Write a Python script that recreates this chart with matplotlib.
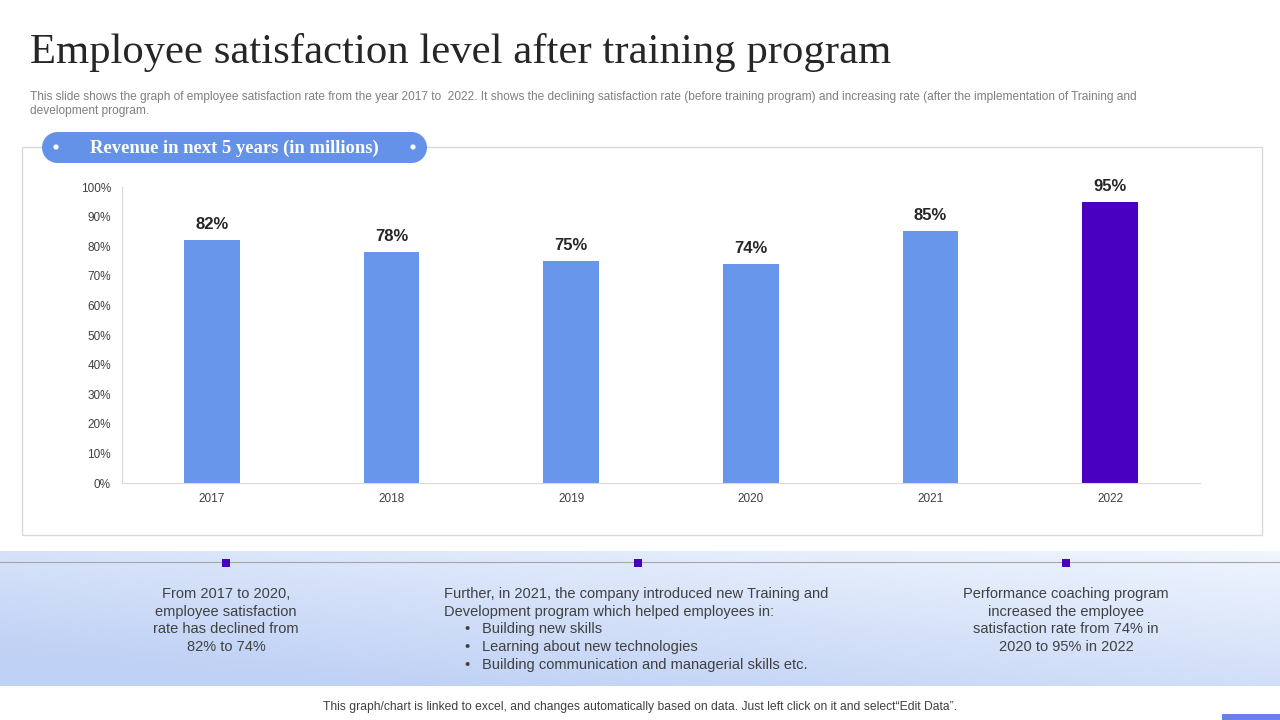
import matplotlib.pyplot as plt
import numpy as np
from matplotlib.patches import Circle, Rectangle

# data
years = ["2017", "2018", "2019", "2020", "2021", "2022"]
satisfaction = [82, 78, 75, 74, 85, 95]
bar_colors = ["#6896EA"] * 5 + ["#4A00C0"]
y_ticks = [0, 10, 20, 30, 40, 50, 60, 70, 80, 90, 100]

plt.rcParams["font.family"] = ["Liberation Sans", "DejaVu Sans"]

fig = plt.figure(figsize=(12.8, 7.2), dpi=100)

# background layer in pixel coordinates
bg = fig.add_axes([0, 0, 1, 1])
bg.set_xlim(0, 1280)
bg.set_ylim(720, 0)
bg.axis("off")

# title and subtitle
bg.text(30, 53, "Employee satisfaction level after training program",
        fontsize=30.8, family=["Liberation Serif", "DejaVu Serif"],
        color="#262626", va="center", ha="left")
bg.text(30, 97, "This slide shows the graph of employee satisfaction rate from the year 2017 to  2022. It shows the declining satisfaction rate (before training program) and increasing rate (after the implementation of Training and",
        fontsize=8.6, color="#7f7f7f", va="center", ha="left")
bg.text(30, 111, "development program.", fontsize=8.6, color="#7f7f7f", va="center", ha="left")

# chart frame
bg.add_patch(Rectangle((22, 147), 1240, 388, fill=False, edgecolor="#d9d9d9", lw=1))

# pill header
pill_col = "#6492E8"
bg.add_patch(Rectangle((57.5, 132), 354, 31, facecolor=pill_col, edgecolor="none", zorder=3))
bg.add_patch(Circle((57.5, 147.5), 15.5, facecolor=pill_col, edgecolor="none", zorder=3))
bg.add_patch(Circle((411.5, 147.5), 15.5, facecolor=pill_col, edgecolor="none", zorder=3))
bg.text(234, 148, "Revenue in next 5 years (in millions)", fontsize=13.4, fontweight="bold",
        family=["Liberation Serif", "DejaVu Serif"], color="white", ha="center", va="center", zorder=4)
bg.add_patch(Circle((56, 147), 2.6, facecolor="white", edgecolor="none", zorder=4))
bg.add_patch(Circle((413, 147), 2.6, facecolor="white", edgecolor="none", zorder=4))

# bottom gradient band
xs = np.linspace(0, 1, 256)
ys = np.linspace(0, 1, 64)
X, Y = np.meshgrid(xs, ys)
t = np.clip(0.6 * Y + 0.5 * (1 - X) + 0.05, 0, 1)
c_light = np.array([0.95, 0.97, 1.0])
c_dark = np.array([0.75, 0.82, 0.96])
img = c_light[None, None, :] * (1 - t[..., None]) + c_dark[None, None, :] * t[..., None]
bg.imshow(img, extent=(0, 1280, 686, 551), aspect="auto", zorder=0)
bg.plot([0, 1280], [562, 562], color="#a6a6a6", lw=0.8, zorder=1)
for sx in [226, 638, 1066]:
    bg.add_patch(Rectangle((sx - 4, 558.5), 8, 8, facecolor="#4A00C0", edgecolor="none", zorder=2))

txt_col = "#404040"
line_y = [594, 612, 629, 647, 665]
left_lines = ["From 2017 to 2020,", "employee satisfaction", "rate has declined from", "82% to 74%"]
for i, s in enumerate(left_lines):
    bg.text(226, line_y[i], s, fontsize=10.5, color=txt_col, ha="center", va="center")
mid_lines = ["Further, in 2021, the company introduced new Training and",
             "Development program which helped employees in:"]
for i, s in enumerate(mid_lines):
    bg.text(444, line_y[i], s, fontsize=10.5, color=txt_col, ha="left", va="center")
bullets = ["Building new skills", "Learning about new technologies",
           "Building communication and managerial skills etc."]
for i, b in enumerate(bullets):
    yy = line_y[i + 2]
    bg.text(467, yy, "•", fontsize=10.5, color=txt_col, ha="center", va="center")
    bg.text(482, yy, b, fontsize=10.5, color=txt_col, ha="left", va="center")
right_lines = ["Performance coaching program", "increased the employee",
               "satisfaction rate from 74% in", "2020 to 95% in 2022"]
for i, s in enumerate(right_lines):
    bg.text(1066, line_y[i], s, fontsize=10.5, color=txt_col, ha="center", va="center")

# footer
bg.text(640, 707, "This graph/chart is linked to excel, and changes automatically based on data. Just left click on it and select\u201cEdit Data\u201d.",
        fontsize=8.7, color="#404040", ha="center", va="center")
bg.add_patch(Rectangle((1222, 714), 58, 6, facecolor="#6A7FE8", edgecolor="none"))

# bar chart
ax = fig.add_axes([122 / 1280, 1 - 483 / 720, (1200 - 122) / 1280, (483 - 187) / 720])
x = np.arange(len(years))
bars = ax.bar(x, satisfaction, width=0.31, color=bar_colors, zorder=2)
for xi, v in zip(x, satisfaction):
    ax.text(xi, v + 2.7, f"{v}%", ha="center", va="bottom", fontsize=12,
            fontweight="bold", color="#262626")
ax.set_xlim(-0.5, 5.5)
ax.set_ylim(0, 100)
ax.set_xticks(x)
ax.set_xticklabels(years, fontsize=8.5, color="#404040")
ax.set_yticks(y_ticks)
ax.set_yticklabels([f"{v}%" for v in y_ticks], fontsize=8.5, color="#404040")
ax.tick_params(length=0, pad=8)
ax.tick_params(axis="x", pad=7)
for s in ["top", "right"]:
    ax.spines[s].set_visible(False)
ax.spines["left"].set_color("#d9d9d9")
ax.spines["bottom"].set_color("#d9d9d9")
ax.patch.set_alpha(0)

fig.savefig("out.png", dpi=100)
